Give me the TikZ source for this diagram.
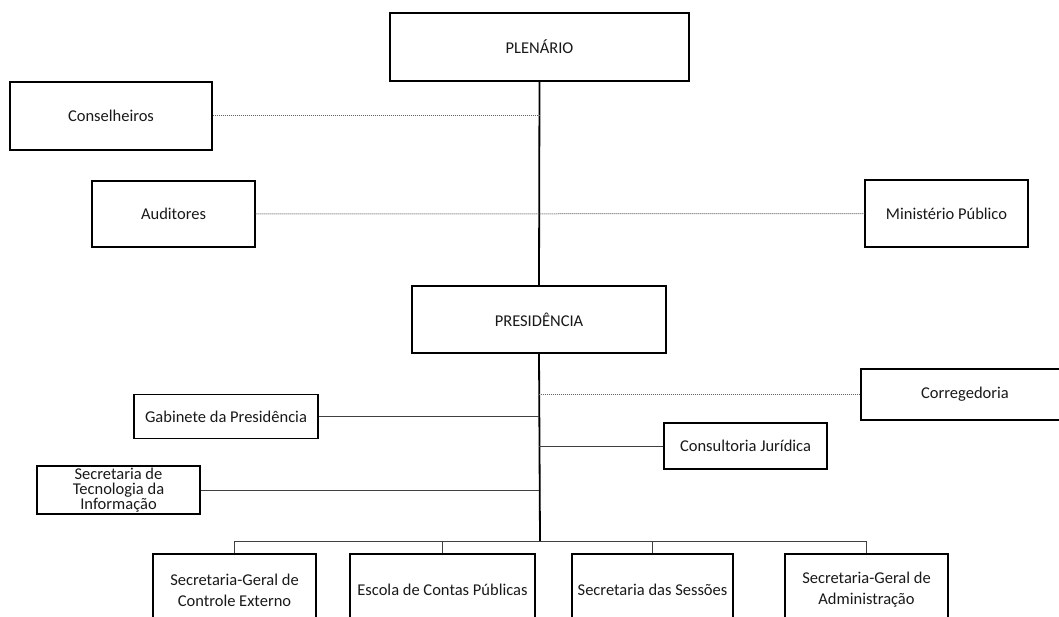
\documentclass[tikz,border=0pt]{standalone}
\usepackage{fontspec}
\setmainfont{Carlito}
\begin{document}
\begin{tikzpicture}[x=1pt,y=-1pt,
  box/.style={draw=black, line width=1.3pt, fill=white, inner sep=2pt, align=center,
    font=\fontsize{16.5}{16.5}\selectfont, text=black!90},
  lowbox/.style={box, font=\fontsize{16.5}{21}\selectfont, minimum height=72},
  tightbox/.style={box, font=\fontsize{16.5}{14.7}\selectfont},
  trunk/.style={line width=1.8pt, draw=black},
  branch/.style={line width=1pt, draw=black!75},
  dotline/.style={line width=1pt, dash pattern=on 1pt off 1pt, draw=black!60}]
\path[use as bounding box] (0,0) rectangle (1059,617);
\clip (0,0) rectangle (1059,617);
% nodes
\node[box, minimum width=299, minimum height=68] (plen) at (539.5,47) {PLENÁRIO};
\node[box, minimum width=202, minimum height=68] (cons) at (111,116) {Conselheiros};
\node[box, minimum width=163, minimum height=66] (aud) at (173.5,214) {Auditores};
\node[box, minimum width=163, minimum height=67] (min) at (946.5,213.5) {Ministério Público};
\node[box, minimum width=254, minimum height=67] (pres) at (539,319.5) {PRESIDÊNCIA};
\node[box, minimum width=208, minimum height=51] (corr) at (965,394.5) {Corregedoria};
\node[box, minimum width=184, minimum height=44] (gab) at (226,416.5) {Gabinete da Presidência};
\node[tightbox, minimum width=163, minimum height=48] (sti) at (118.5,490) {Secretaria de\\Tecnologia da\\Informação};
\node[box, minimum width=163, minimum height=46] (cj) at (745.5,446) {Consultoria Jurídica};
\node[lowbox, minimum width=163] (b1) at (234.5,590) {Secretaria-Geral de\\Controle Externo};
\node[lowbox, minimum width=185] (b2) at (442.5,590) {Escola de Contas Públicas};
\node[lowbox, minimum width=161] (b3) at (652.5,590) {Secretaria das Sessões};
\node[lowbox, minimum width=163] (b4) at (866.5,590) {Secretaria-Geral de\\Administração};
\coordinate (bus) at (540,541);
% connectors
\draw[trunk] (plen.south) -- (pres.north);
\draw[trunk] (pres.south) -- (bus);
\draw[dotline] (cons.east) -- (cons.east -| plen.south);
\draw[dotline] (aud.east) -- (min.west);
\draw[dotline] (corr.west) -- (corr.west -| pres.south);
\draw[branch] (gab.east) -- (gab.east -| pres.south);
\draw[branch] (sti.east) -- (sti.east -| pres.south);
\draw[branch] (cj.west) -- (cj.west -| pres.south);
\draw[branch] (b1.north) -- (b1.north |- bus) -- (b4.north |- bus) -- (b4.north);
\draw[branch] (b2.north) -- (b2.north |- bus);
\draw[branch] (b3.north) -- (b3.north |- bus);
\end{tikzpicture}
\end{document}
